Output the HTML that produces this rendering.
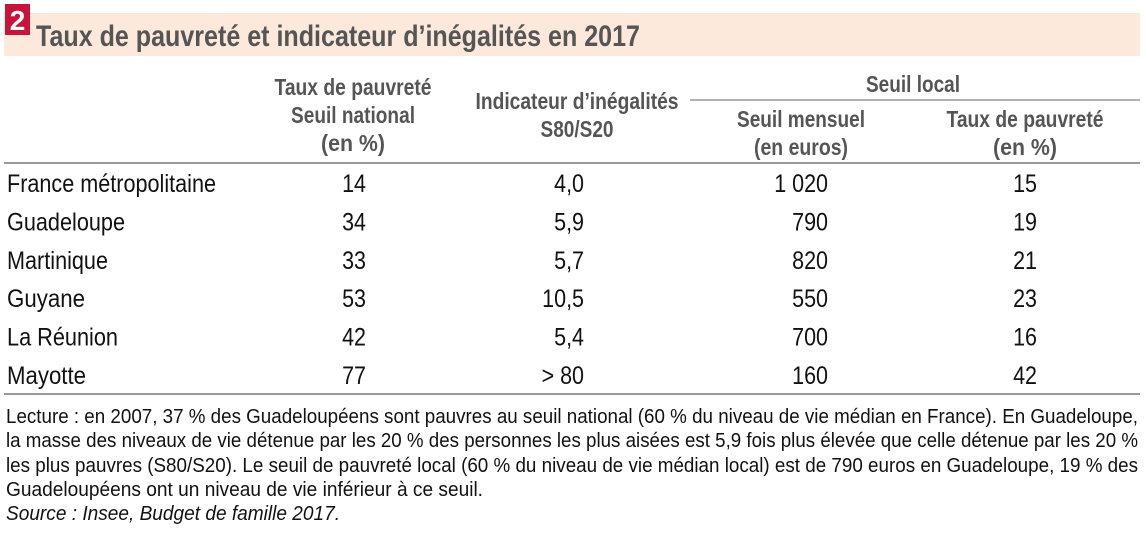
<!DOCTYPE html>
<html><head><meta charset="utf-8"><style>
body{margin:0;background:#fff;width:1146px;height:550px;overflow:hidden}
svg{display:block;font-family:"Liberation Sans",sans-serif}
</style></head><body>
<svg width="1146" height="550" viewBox="0 0 1146 550">
<rect x="4" y="13" width="1136" height="43" fill="#fce9dc"/>
<rect x="5" y="4" width="25" height="31" fill="#c8133b"/>
<text x="17.5" y="30" text-anchor="middle" font-size="28" font-weight="bold" fill="#fff">2</text>
<text x="36" y="46" font-size="30" font-weight="bold" fill="#555" textLength="604" lengthAdjust="spacingAndGlyphs">Taux de pauvreté et indicateur d’inégalités en 2017</text>
<g font-weight="bold" fill="#555" font-size="23" text-anchor="middle">
<text x="353" y="95" textLength="157" lengthAdjust="spacingAndGlyphs">Taux de pauvreté</text>
<text x="353" y="123" textLength="124" lengthAdjust="spacingAndGlyphs">Seuil national</text>
<text x="353" y="151" textLength="64" lengthAdjust="spacingAndGlyphs">(en %)</text>
<text x="577" y="109" textLength="203" lengthAdjust="spacingAndGlyphs">Indicateur d’inégalités</text>
<text x="577" y="137" textLength="73" lengthAdjust="spacingAndGlyphs">S80/S20</text>
<text x="913" y="92" textLength="94" lengthAdjust="spacingAndGlyphs">Seuil local</text>
<text x="801" y="127" textLength="128" lengthAdjust="spacingAndGlyphs">Seuil mensuel</text>
<text x="801" y="155" textLength="94" lengthAdjust="spacingAndGlyphs">(en euros)</text>
<text x="1025" y="127" textLength="157" lengthAdjust="spacingAndGlyphs">Taux de pauvreté</text>
<text x="1025" y="155" textLength="64" lengthAdjust="spacingAndGlyphs">(en %)</text>
</g>
<line x1="690" y1="100" x2="1140" y2="100" stroke="#999" stroke-width="1.5"/>
<line x1="4" y1="163" x2="1140" y2="163" stroke="#999" stroke-width="2"/>
<line x1="4" y1="394" x2="1140" y2="394" stroke="#999" stroke-width="2"/>
<g id="rows" font-size="25" fill="#111"></g>
<g font-size="20" fill="#111">
<text x="6" y="423" textLength="1132" lengthAdjust="spacingAndGlyphs">Lecture : en 2007, 37 % des Guadeloupéens sont pauvres au seuil national (60 % du niveau de vie médian en France). En Guadeloupe,</text>
<text x="6" y="447" textLength="1132" lengthAdjust="spacingAndGlyphs">la masse des niveaux de vie détenue par les 20 % des personnes les plus aisées est 5,9 fois plus élevée que celle détenue par les 20 %</text>
<text x="6" y="472" textLength="1132" lengthAdjust="spacingAndGlyphs">les plus pauvres (S80/S20). Le seuil de pauvreté local (60 % du niveau de vie médian local) est de 790 euros en Guadeloupe, 19 % des</text>
<text x="6" y="496" textLength="477" lengthAdjust="spacingAndGlyphs">Guadeloupéens ont un niveau de vie inférieur à ce seuil.</text>
<text x="6" y="520" font-style="italic" textLength="334" lengthAdjust="spacingAndGlyphs">Source : Insee, Budget de famille 2017.</text>
</g>
</svg>
<script>
const territories = ["France métropolitaine","Guadeloupe","Martinique","Guyane","La Réunion","Mayotte"];
const nationalRate = ["14","34","33","53","42","77"];
const inequality = ["4,0","5,9","5,7","10,5","5,4","> 80"];
const monthlyThreshold = ["1 020","790","820","550","700","160"];
const localRate = ["15","19","21","23","16","42"];
const labelWidths = [209,118,101,78,111,79];
const g = document.getElementById('rows');
const NS = "http://www.w3.org/2000/svg";
function add(txt, x, y, anchor, w, name){
  const t = document.createElementNS(NS,'text');
  t.setAttribute('x', x); t.setAttribute('y', y);
  t.setAttribute('text-anchor', anchor);
  if (w) { t.setAttribute('textLength', w); t.setAttribute('lengthAdjust','spacingAndGlyphs'); }
  else { t.setAttribute('transform', 'translate(' + x + ',0) scale(0.86,1) translate(' + (-x) + ',0)'); }
  t.textContent = txt;
  
  
  g.appendChild(t);
}
territories.forEach((name, i) => {
  const y = 192 + i * 38.4;
  add(name, 7, y, 'start', labelWidths[i], 'row-label');
  add(nationalRate[i], 366, y, 'end', null, 'national-rate-cell');
  add(inequality[i], 584, y, 'end', null, 'inequality-cell');
  add(monthlyThreshold[i], 828, y, 'end', null, 'monthly-threshold-cell');
  add(localRate[i], 1037, y, 'end', null, 'local-rate-cell');
});
</script>
</body></html>
